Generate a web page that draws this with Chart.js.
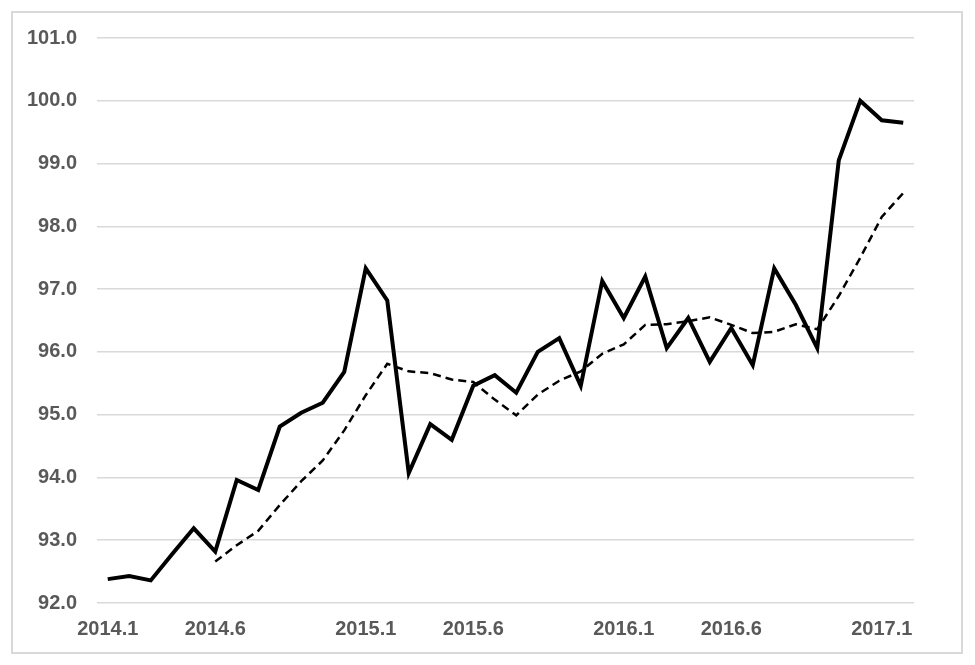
<!DOCTYPE html>
<html>
<head>
<meta charset="utf-8">
<script src="https://cdn.jsdelivr.net/npm/chart.js@4"></script>
<style>
  html, body { margin: 0; padding: 0; background: #fff; }
  #frame {
    position: absolute; left: 11px; top: 11px;
    width: 948px; height: 639px;
    border: 2px solid #d9d9d9;
  }
  #wrap { position: absolute; left: 0; top: 0; width: 975px; height: 665px; }
</style>
</head>
<body>
<div id="frame"></div>
<div id="wrap"><canvas id="chart" width="975" height="665"></canvas></div>
<script>
// 月份（2014.1 - 2017.2）
const categories = [
  '2014.1','2014.2','2014.3','2014.4','2014.5','2014.6','2014.7','2014.8','2014.9','2014.10','2014.11','2014.12',
  '2015.1','2015.2','2015.3','2015.4','2015.5','2015.6','2015.7','2015.8','2015.9','2015.10','2015.11','2015.12',
  '2016.1','2016.2','2016.3','2016.4','2016.5','2016.6','2016.7','2016.8','2016.9','2016.10','2016.11','2016.12',
  '2017.1','2017.2'
];

// 实线：月度值
const monthly = [
  92.38, 92.43, 92.36, 92.78, 93.19, 92.82, 93.96, 93.80, 94.81, 95.03, 95.19, 95.68,
  97.33, 96.82, 94.07, 94.85, 94.60, 95.46, 95.63, 95.35, 96.00, 96.22, 95.46, 97.13,
  96.54, 97.20, 96.06, 96.54, 95.84, 96.38, 95.79, 97.33, 96.75, 96.06, 99.05, 100.00,
  99.69, 99.65
];

// 虚线：从 2014.6 开始
const smoothed = [
  null, null, null, null, null, 92.66, 92.92, 93.15, 93.56, 93.94, 94.27, 94.75,
  95.31, 95.81, 95.69, 95.66, 95.56, 95.52, 95.24, 94.99, 95.32, 95.54, 95.69, 95.97,
  96.12, 96.43, 96.44, 96.49, 96.55, 96.43, 96.30, 96.32, 96.44, 96.36, 96.89, 97.50,
  98.15, 98.53
];

// 横轴显示的标签
const shownTicks = ['2014.1', '2014.6', '2015.1', '2015.6', '2016.1', '2016.6', '2017.1'];

const yMin = 92;
const yMax = 101;

const tickFont = { family: '"Liberation Sans", Arial, sans-serif', size: 20, weight: 'bold' };
const tickColor = '#595959';

const ctx = document.getElementById('chart');

new Chart(ctx.getContext('2d'), {
  type: 'line',
  data: {
    labels: categories,
    datasets: [
      {
        data: monthly,
        borderColor: '#000',
        borderWidth: 4,
        borderJoinStyle: 'miter',
        pointRadius: 0,
        tension: 0,
        fill: false
      },
      {
        data: smoothed,
        borderColor: '#000',
        borderWidth: 2.5,
        borderDash: [8, 5],
        pointRadius: 0,
        tension: 0,
        fill: false,
        spanGaps: false
      }
    ]
  },
  options: {
    responsive: false,
    animation: false,
    layout: { padding: { left: 0, right: 61, top: 38, bottom: 10 } },
    plugins: { legend: { display: false }, tooltip: { enabled: false } },
    scales: {
      x: {
        offset: true,
        grid: { display: false, drawTicks: false },
        border: { display: false },
        ticks: {
          autoSkip: false,
          maxRotation: 0,
          padding: 14,
          color: tickColor,
          font: tickFont,
          callback: function (value) {
            const lab = this.getLabelForValue(value);
            return shownTicks.includes(lab) ? lab : '';
          }
        }
      },
      y: {
        min: yMin,
        max: yMax,
        grid: { color: '#d9d9d9', lineWidth: 1.5, drawTicks: false },
        border: { display: false },
        ticks: {
          stepSize: 1,
          padding: 20,
          color: tickColor,
          font: tickFont,
          callback: (v) => v.toFixed(1)
        },
        afterFit: (s) => { s.width = 97; }
      }
    }
  }
});
</script>
</body>
</html>
